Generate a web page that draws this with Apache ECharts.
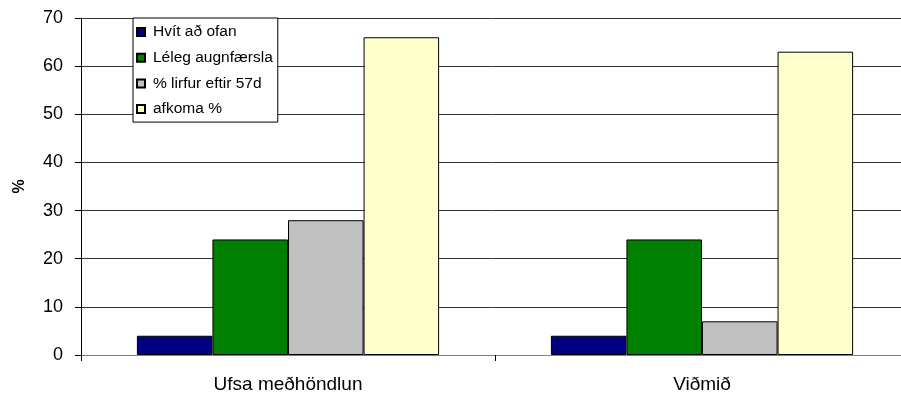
<!DOCTYPE html>
<html>
<head>
<meta charset="utf-8">
<script src="https://cdn.jsdelivr.net/npm/echarts@6/dist/echarts.min.js"></script>
<style>html,body{margin:0;padding:0;background:#fff}#c{width:901px;height:395px}</style>
</head>
<body>
<div id="c"></div>
<script>
const categories = ['Ufsa meðhöndlun', 'Viðmið'];
const seriesNames = ['Hvít að ofan', 'Léleg augnfærsla', '% lirfur eftir 57d', 'afkoma %'];
const hvitAdOfan = [4, 4];
const lelegAugnfaersla = [24, 24];
const lirfurEftir57d = [28, 7];
const afkoma = [66, 63];
const yTicks = [0, 10, 20, 30, 40, 50, 60, 70];
const colors = ['#000080', '#008000', '#C0C0C0', '#FFFFCC'];

const values = [hvitAdOfan, lelegAugnfaersla, lirfurEftir57d, afkoma];
const font = 'Liberation Sans, Arial, sans-serif';

const chart = echarts.init(document.getElementById('c'), null, {renderer: 'canvas'});
chart.setOption({
  animation: false,
  backgroundColor: '#fff',
  grid: {left: 81, top: 18, right: -8, bottom: 40, containLabel: false, outerBoundsMode: 'none'},
  legend: {
    orient: 'vertical', left: 133, top: 18,
    backgroundColor: '#fff', borderColor: '#000', borderWidth: 1,
    padding: [6, 5, 5, 3],
    itemWidth: 8, itemHeight: 8, itemGap: 9.7,
    textStyle: {fontFamily: font, fontSize: 15.5, color: '#000', padding: [0, 0, 0, 3]},
    data: seriesNames,
    icon: 'rect'
  },
  xAxis: {
    type: 'category', data: categories,
    axisLine: {lineStyle: {color: '#808080', width: 1}},
    axisTick: {show: true, length: 6, lineStyle: {color: '#000'}},
    axisLabel: {fontFamily: font, fontSize: 19, color: '#000', margin: 20}
  },
  yAxis: {
    type: 'value', min: yTicks[0], max: yTicks[yTicks.length - 1], interval: 10,
    name: '%', nameLocation: 'middle', nameRotate: 90, nameGap: 53,
    nameTextStyle: {fontFamily: font, fontSize: 16, fontWeight: 'bold', color: '#000'},
    axisLine: {show: true, lineStyle: {color: '#000', width: 1}},
    axisTick: {show: true, inside: false, length: 6, lineStyle: {color: '#000'}},
    axisLabel: {fontFamily: font, fontSize: 18, color: '#000', margin: 18},
    splitLine: {show: true, lineStyle: {color: '#333', width: 1}}
  },
  series: seriesNames.map((n, i) => ({
    name: n, type: 'bar', data: values[i],
    barGap: '0%', barCategoryGap: '27%',
    itemStyle: {color: colors[i], borderColor: '#000', borderWidth: 1}
  }))
});
</script>
</body>
</html>
